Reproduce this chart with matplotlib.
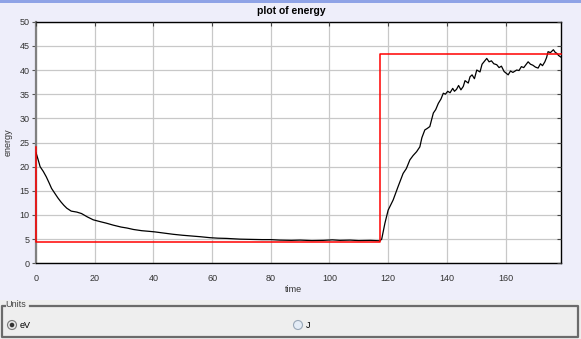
import matplotlib
matplotlib.use("Agg")
import matplotlib.pyplot as plt
from matplotlib.patches import Rectangle, Ellipse
from matplotlib.lines import Line2D

plt.rcParams['font.family'] = ['Liberation Sans', 'DejaVu Sans']

# ---- data ----
time = [0, 0.7, 1.4, 2.5, 3.5, 4.5, 5.3, 6.5, 7.5, 8.5,
        9.5, 10.5, 12, 13.9, 15.5, 17.5, 19.5, 22, 24, 26.3,
        29, 31, 33.2, 36, 38.8, 40.5, 43, 46.8, 50, 53,
        56, 59.3, 62, 65, 69.5, 73, 77, 80, 83, 87,
        90, 94, 98, 101, 103.6, 107, 110, 114, 117.2, 117.8,
        118.9, 120.0, 121.7, 123.4, 125.1, 126.2, 127.4, 128.5, 129.7, 130.8,
        131.5, 132.5, 133.3, 134.2, 135.4, 136.2, 137.1, 138.0, 138.8, 139.5,
        140.3, 141.1, 142.0, 142.6, 143.3, 144.0, 144.8, 145.6, 146.2, 147.3,
        147.9, 148.6, 149.4, 150.2, 151.3, 152.0, 152.8, 153.6, 154.4, 155.2,
        156.0, 157.0, 157.8, 158.6, 159.5, 160.1, 160.9, 161.7, 162.5, 163.8,
        164.6, 165.4, 166.2, 167.7, 168.5, 169.3, 170.2, 171.1, 171.9, 172.6,
        173.4, 174.0, 174.5, 175.3, 176.3, 177.0, 177.4, 178.1, 178.8]
energy = [22.9, 21.5, 20.0, 19.0, 17.9, 16.6, 15.5, 14.4, 13.5, 12.7,
          12.0, 11.4, 10.8, 10.6, 10.3, 9.6, 9.0, 8.6, 8.3, 7.9,
          7.5, 7.3, 7.0, 6.75, 6.6, 6.5, 6.3, 6.0, 5.8, 5.65,
          5.5, 5.3, 5.2, 5.15, 5.0, 4.95, 4.9, 4.9, 4.8, 4.75,
          4.8, 4.7, 4.75, 4.85, 4.75, 4.8, 4.7, 4.75, 4.65, 5.0,
          8.3, 11.0, 13.1, 15.9, 18.6, 19.6, 21.4, 22.3, 23.1, 24.1,
          26.0, 27.6, 27.9, 28.3, 31.1, 31.8, 33.1, 34.0, 35.2, 35.0,
          35.6, 35.3, 36.2, 35.6, 36.0, 36.8, 35.9, 36.6, 37.8, 37.3,
          38.6, 39.0, 38.2, 40.0, 39.6, 41.2, 41.8, 42.4, 41.7, 41.9,
          41.3, 41.1, 40.5, 40.8, 39.7, 39.4, 39.0, 39.8, 39.5, 40.0,
          39.9, 40.7, 40.5, 41.7, 41.2, 41.0, 40.6, 40.4, 41.3, 40.9,
          41.7, 42.6, 43.8, 43.6, 44.2, 43.6, 43.5, 43.0, 42.7]

target_time = [0, 0, 117.3, 117.3, 178.8]
target_energy = [24.0, 4.45, 4.45, 43.3, 43.3]

x_ticks = [0, 20, 40, 60, 80, 100, 120, 140, 160]
y_ticks = [0, 5, 10, 15, 20, 25, 30, 35, 40, 45, 50]

W, H = 581, 339
fig = plt.figure(figsize=(W / 100, H / 100), dpi=100)
fig.patch.set_facecolor('#eeeeee')

def fx(px):
    return px / W

def fy(py):
    return 1 - py / H

# lavender upper region and blue top strip
fig.patches.append(Rectangle((0, fy(300)), 1, 1 - fy(300), transform=fig.transFigure,
                             facecolor='#eeeefa', edgecolor='none', zorder=-10))
fig.patches.append(Rectangle((0, fy(2.5)), 1, fy(0) - fy(2.5), transform=fig.transFigure,
                             facecolor='#8fa3e6', edgecolor='none', zorder=-5))

ax = fig.add_axes([fx(36), fy(263.3), fx(560.7) - fx(36), fy(21.7) - fy(263.3)])
ax.set_facecolor('white')
ax.plot(time, energy, color='black', lw=0.9, zorder=3)
ax.plot(target_time, target_energy, color='red', lw=1.1, zorder=4, clip_on=False)
ax.set_xlim(0, 178.8)
ax.set_ylim(0, 50)
ax.set_xticks(x_ticks)
ax.set_yticks(y_ticks)
ax.grid(True, color='#c8c8c8', lw=0.9)
ax.set_axisbelow(True)
ax.tick_params(axis='x', length=0, labelsize=6.5, labelcolor='#333333', pad=8)
ax.tick_params(axis='y', direction='out', length=3, labelsize=6.5,
               labelcolor='#333333', pad=1.5, color='#555555')
for s in ['top', 'right', 'bottom']:
    ax.spines[s].set_color('black')
    ax.spines[s].set_linewidth(1.0)
ax.spines['left'].set_color('#808080')
ax.spines['left'].set_linewidth(1.6)

# inward ticks on top and right
axr = ax.twinx()
axr.set_ylim(0, 50)
axr.set_yticks(y_ticks)
axr.tick_params(axis='y', direction='in', length=3, labelright=False, color='#444444')
axt = ax.twiny()
axt.set_xlim(0, 178.8)
axt.set_xticks(x_ticks)
axt.tick_params(axis='x', direction='in', length=3, labeltop=False, color='#444444')
for a in (axr, axt):
    for s in a.spines.values():
        s.set_visible(False)

fig.text(fx(291), fy(11), 'plot of energy', ha='center', va='center',
         fontsize=7.5, fontweight='bold', color='black')
fig.text(fx(293), fy(289), 'time', ha='center', va='center', fontsize=6.5, color='#333333')
fig.text(fx(8), fy(142), 'energy', ha='center', va='center', fontsize=6.5,
         color='#333333', rotation=90)

# Units group box
box = Line2D([fx(30), fx(578), fx(578), fx(2), fx(2), fx(4.5)],
             [fy(305.5), fy(305.5), fy(336.5), fy(336.5), fy(305.5), fy(305.5)],
             transform=fig.transFigure, color='#6b6b6b', lw=1.6)
fig.lines.append(box)
fig.text(fx(5.5), fy(304.5), 'Units', ha='left', va='center', fontsize=6.5, color='#444444')

r = 4.5
fig.patches.append(Ellipse((fx(12), fy(325)), 2 * r / W, 2 * r / H, transform=fig.transFigure,
                           facecolor='#e8e8e8', edgecolor='#7a7a7a', lw=0.8))
fig.patches.append(Ellipse((fx(12), fy(325)), 4.6 / W, 4.6 / H, transform=fig.transFigure,
                           facecolor='#333333', edgecolor='none'))
fig.text(fx(20), fy(325.5), 'eV', ha='left', va='center', fontsize=6.5, color='black')

fig.patches.append(Ellipse((fx(298), fy(325)), 2 * r / W, 2 * r / H, transform=fig.transFigure,
                           facecolor='#e4ecf6', edgecolor='#9aa8b8', lw=0.8))
fig.text(fx(306), fy(325.5), 'J', ha='left', va='center', fontsize=6.5, color='black')

fig.savefig('out.png', dpi=100, facecolor=fig.get_facecolor())
